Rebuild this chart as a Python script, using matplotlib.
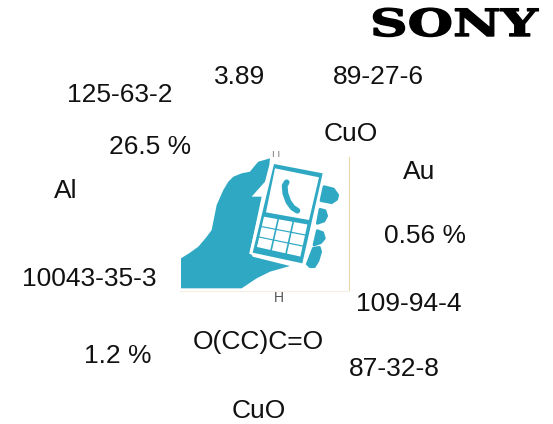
import matplotlib
matplotlib.use("Agg")
import matplotlib.pyplot as plt
from matplotlib.patches import Polygon
from matplotlib.patheffects import AbstractPathEffect
from matplotlib.transforms import Affine2D

plt.rcParams['font.family'] = ['Liberation Sans', 'DejaVu Sans']

labels = ["125-63-2", "3.89", "89-27-6", "26.5 %", "CuO", "Au", "Al", "0.56 %",
          "10043-35-3", "109-94-4", "O(CC)C=O", "1.2 %", "87-32-8", "CuO"]
label_x = [120, 240, 378, 150, 351, 419, 66, 425, 89, 409, 258, 118, 394, 259]
label_y = [95, 77, 77, 147, 134, 172, 191, 236, 279, 304, 342, 356, 369, 411]

teal = "#2fa9c3"

# icon outlines, taken from the 3x crop
hand = [(33,445),(33,355),(60,338),(85,320),(108,293),(125,270),(132,235),(140,195),(160,150),
        (175,125),(190,110),(215,100),(240,95),(252,80),(265,65),(300,55),(298,75),(285,125),
        (245,170),(275,170),(240,335),(248,350),(360,378),(300,395),(260,415),(215,445)]
phone_edge = [(305,65),(462,95),(400,375),(240,340)]
phone = [(312,72),(458,100),(397,370),(248,338)]
screen = [(315,85),(447,112),(417,240),(288,217)]
keypad = [(280,228),(415,252),(393,352),(258,322)]
fingers = [
    [(462,140),(490,147),(503,165),(500,178),(485,188),(453,182)],
    [(450,208),(465,212),(470,228),(462,243),(442,250)],
    [(442,272),(458,278),(463,295),(452,308),(432,315)],
    [(430,325),(448,322),(452,335),(444,362),(433,380),(420,380),(412,372)],
]
handset_x = [350, 344, 346, 355, 368, 382]
handset_y = [127, 137, 160, 185, 203, 212]


def crop(pts):
    return [(170 + x / 3, 140 + y / 3) for x, y in pts]


def mix(a, b, t):
    return (a[0] + (b[0] - a[0]) * t, a[1] + (b[1] - a[1]) * t)


def cell(i, j):
    # one key of the 3x3 keypad
    gap = 0.018
    out = []
    for u, v in [(i / 3 + gap, j / 3 + gap), (i / 3 + 1 / 3 - gap, j / 3 + gap),
                 (i / 3 + 1 / 3 - gap, j / 3 + 1 / 3 - gap), (i / 3 + gap, j / 3 + 1 / 3 - gap)]:
        top = mix(keypad[0], keypad[1], u)
        bot = mix(keypad[3], keypad[2], u)
        out.append(mix(top, bot, v))
    return out


class Stretch(AbstractPathEffect):
    def __init__(self, sx, lw):
        super().__init__()
        self.sx = sx
        self.lw = lw

    def draw_path(self, renderer, gc, tpath, affine, rgbFace=None):
        gc0 = renderer.new_gc()
        gc0.copy_properties(gc)
        gc0.set_linewidth(self.lw)
        gc0.set_foreground("black")
        renderer.draw_path(gc0, tpath, Affine2D().scale(self.sx, 1) + affine, rgbFace)
        gc0.restore()


fig = plt.figure(figsize=(5.53, 4.24), dpi=100)
ax = fig.add_axes([0, 0, 1, 1])
ax.set_xlim(0, 553)
ax.set_ylim(424, 0)
ax.axis("off")

ax.add_patch(Polygon(crop(hand), fc=teal, ec="none"))
for f in fingers:
    ax.add_patch(Polygon(crop(f), fc=teal, ec=teal, lw=2, joinstyle="round"))
ax.add_patch(Polygon(crop(phone_edge), fc="white", ec="white", lw=1, joinstyle="round"))
ax.add_patch(Polygon(crop(phone), fc=teal, ec="none"))
ax.add_patch(Polygon(crop(screen), fc="white", ec="none"))
for i in range(3):
    for j in range(3):
        ax.add_patch(Polygon(crop(cell(i, j)), fc="white", ec="none"))
h = crop(list(zip(handset_x, handset_y)))
ax.plot([p[0] for p in h], [p[1] for p in h], color=teal, lw=4.2, solid_capstyle="round")

# edges of the pasted image
ax.plot([349, 349], [157, 291], color="#ecd9ae", lw=0.8)
ax.plot([180, 349], [291, 291], color="#f4efe2", lw=0.8)

for t, x, y in zip(labels, label_x, label_y):
    ax.text(x, y, t, fontsize=19, color="#111111", ha="center", va="center")

ax.text(279, 298, "H", fontsize=10, color="#555555", ha="center", va="center")
ax.text(276, 154, "ı ı", fontsize=7, color="#777777", ha="center", va="center")

sony = ax.text(370, 36, "SONY", fontsize=27, family="DejaVu Serif", weight="bold",
               color="black", ha="left", va="baseline")
sony.set_path_effects([Stretch(1.39, 1.0)])

fig.savefig("out.png", dpi=100)
